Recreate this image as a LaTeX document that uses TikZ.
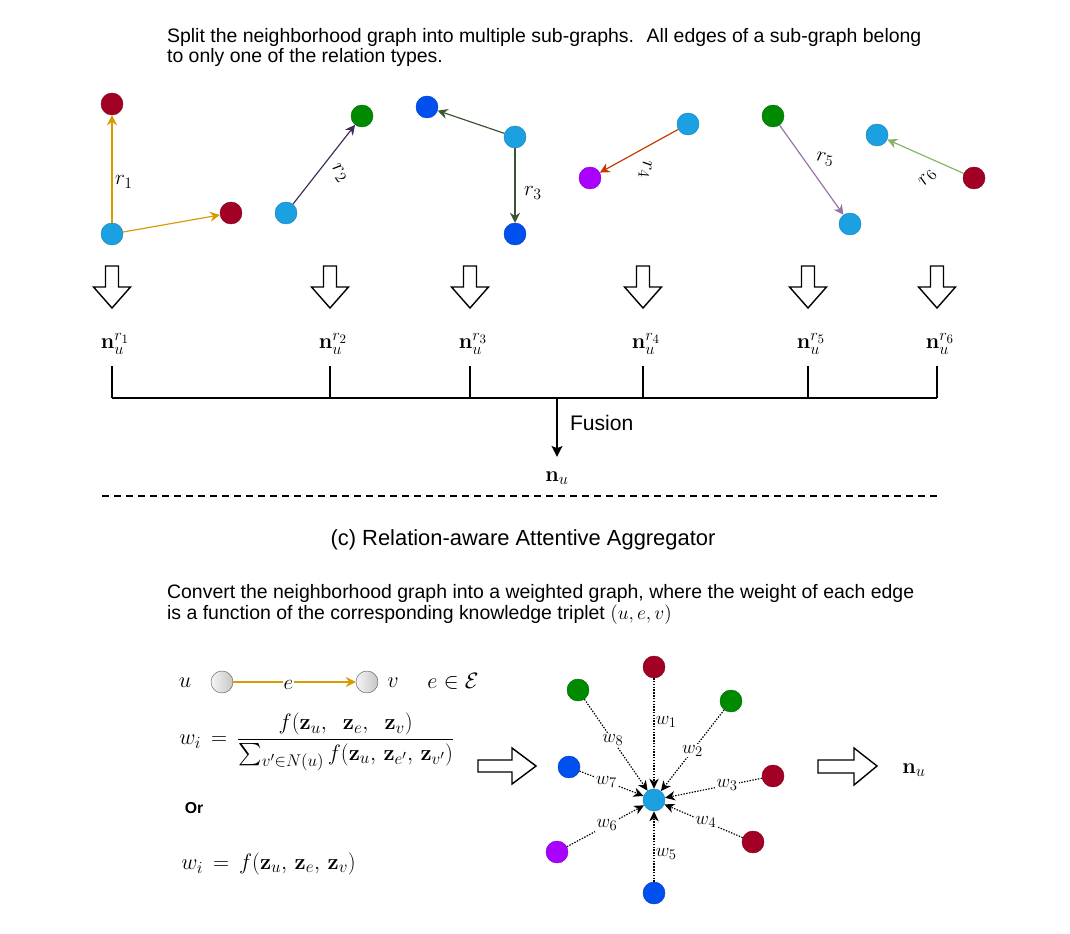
\RequirePackage{fix-cm}
\documentclass[tikz,border=0pt]{standalone}
\usepackage{amsmath,amssymb}
\usepackage[no-math]{fontspec}
\setmainfont{Liberation Sans}
\usetikzlibrary{arrows.meta}
\definecolor{nred}{HTML}{A20025}
\definecolor{ngreen}{HTML}{008A00}
\definecolor{nblue}{HTML}{1BA1E2}
\definecolor{ncobalt}{HTML}{0050EF}
\definecolor{nviolet}{HTML}{AA00FF}
\definecolor{eorange}{HTML}{D79B00}
\definecolor{eplum}{HTML}{432D57}
\definecolor{eolive}{HTML}{3A5431}
\definecolor{erust}{HTML}{C73500}
\definecolor{elilac}{HTML}{9673A6}
\definecolor{elime}{HTML}{82B366}
\DeclareMathSizes{19}{19}{14.5}{11}
\DeclareMathSizes{18.5}{18.5}{14}{11}
\DeclareMathSizes{18}{18}{13.5}{10.5}
\DeclareMathSizes{16}{16}{12.5}{9.5}
\newcommand{\nvec}{\mathbf{n}}
\newcommand{\zvec}{\mathbf{z}}

\begin{document}
\begin{tikzpicture}[
    x=0.03cm, y=-0.03cm,
    dot/.style={circle, minimum size=0.66cm, inner sep=0pt, fill=#1,
                draw=#1!80!black, line width=0.4pt},
    gdot/.style={circle, minimum size=0.66cm, inner sep=0pt,
                 left color=gray!8, right color=gray!45, draw=gray!75!black},
    rel/.style={draw=#1, line width=1pt,
                -{Stealth[length=3mm, width=3mm, inset=1mm]}},
    rlbl/.style={font=\fontsize{18}{21}\selectfont, inner sep=1pt},
    caption/.style={font=\fontsize{16.6}{17.9}\selectfont, align=left},
    bigm/.style={font=\fontsize{18.5}{22}\selectfont, inner sep=1pt},
    fm/.style={font=\fontsize{19}{23}\selectfont, inner sep=1pt},
    blk/.style={draw, line width=1.2pt, fill=white, line join=miter},
    wedge/.style={line width=1pt, dash pattern=on 1.2pt off 1.2pt,
                  -{Stealth[length=3mm, width=2.8mm, inset=0.9mm]}},
    wlbl/.style={font=\fontsize{16}{19}\selectfont, fill=white, inner sep=1pt},
]
\useasboundingbox (0,0) rectangle (1070,934);

% caption of the split part
\node[caption, anchor=base west] (cap1) at (163,63)
  {Split the neighborhood graph into multiple sub-graphs.~ All edges of a sub-graph belong\\
   to only one of the relation types.};

% the six sub-graphs
\node[dot=nblue] (a0) at (112,234) {};
\node[dot=nred] (a1) at (112,104) {};
\node[dot=nred] (a2) at (231,213) {};
\draw[rel=eorange] (a0) -- node[rlbl, pos=0.38, shift={(12,0)}] (l1) {$r_1$} (a1);
\draw[rel=eorange] (a0) -- (a2);

\node[dot=nblue] (b0) at (286,213) {};
\node[dot=ngreen] (b1) at (362,116) {};
\draw[rel=eplum] (b0) -- node[rlbl, pos=0.39, shift={(22,0)}, rotate=-55] (l2) {$r_2$} (b1);

\node[dot=nblue] (c0) at (515,137) {};
\node[dot=ncobalt] (c1) at (427,107) {};
\node[dot=ncobalt] (c2) at (515,234) {};
\draw[rel=eolive] (c0) -- (c1);
\draw[rel=eolive] (c0) -- node[rlbl, pos=0.6, shift={(18,0)}] (l3) {$r_3$} (c2);

\node[dot=nblue] (d0) at (688,124) {};
\node[dot=nviolet] (d1) at (590,178) {};
\draw[rel=erust] (d0) -- node[rlbl, pos=0.42, shift={(0,22)}, rotate=-95] (l4) {$r_4$} (d1);

\node[dot=ngreen] (e0) at (773,116) {};
\node[dot=nblue] (e1) at (850,224) {};
\draw[rel=elilac] (e0) -- node[rlbl, pos=0.38, shift={(21,0)}, rotate=-10] (l5) {$r_5$} (e1);

\node[dot=nred] (f0) at (974,178) {};
\node[dot=nblue] (f1) at (877,135) {};
\draw[rel=elime] (f0) -- node[rlbl, pos=0.47, shift={(0,20)}, rotate=50] (l6) {$r_6$} (f1);

% block arrows, labels and fusion
\foreach \x [count=\i] in {112,330,470,643,808,937} {
  \draw[blk] (\x-6.5,266) -- (\x-6.5,287) -- (\x-18.5,287) -- (\x,308)
    -- (\x+18.5,287) -- (\x+6.5,287) -- (\x+6.5,266) -- cycle;
  \node[bigm] (n\i) at (\x+3,344) {$\nvec_u^{r_{\i}}$};
  \coordinate (t\i) at (\x,366);
  \coordinate (h\i) at (\x,398);
  \draw[line width=1.2pt] (t\i) -- (h\i);
}
\draw[line width=1.2pt] (h1) -- (h6);
\coordinate (hf) at (557,398);
\node[bigm] (nu) at (557,478) {$\nvec_u$};
\draw[line width=1.8pt, -{Stealth[length=3.2mm, width=3.2mm, inset=0.6mm]}, shorten >=0.4cm]
  (hf) -- node[pos=0.35, anchor=west, font=\fontsize{18}{21}\selectfont, inner sep=0pt,
               shift={(12,0)}] (fus) {Fusion} (nu.north);

% separator
\coordinate (sl) at (102,496);
\coordinate (sr) at (940,496);
\draw[line width=1.1pt, dash pattern=on 0.21cm off 0.15cm] (sl) -- (sr);
\node[font=\fontsize{18.7}{22}\selectfont] (title) at (523,540)
  {(c) Relation-aware Attentive Aggregator};

% caption of the weighted part
\node[caption, anchor=base west] (cap2) at (163,619)
  {Convert the neighborhood graph into a weighted graph, where the weight of each edge\\
   is a function of the corresponding knowledge triplet $(u, e, v)$};

% triplet and weights
\node[fm] (u) at (185,683) {$u$};
\node[gdot] (gu) at (222,682) {};
\node[gdot] (gv) at (367,682) {};
\draw[rel=eorange] (gu) -- node[rlbl, fill=white, inner sep=0.5pt, pos=0.45, shift={(0,3)}] (le) {$e$} (gv);
\node[fm] (v) at (393,683) {$v$};
\node[fm] (inE) at (453,681) {$e \in \mathcal{E}$};

\node[fm, anchor=west] (wfrac) at (178,742)
  {$\displaystyle w_i \,=\, \frac{f(\zvec_u,\;\; \zvec_e,\;\; \zvec_v)}{\sum_{v' \in N(u)} f(\zvec_u,\, \zvec_{e'},\, \zvec_{v'})}$};
\node[font=\bfseries\fontsize{13.5}{16}\selectfont] (or) at (194,808) {Or};
\node[fm, anchor=west] (wsimple) at (180,864)
  {$w_i \,=\, f(\zvec_u,\, \zvec_e,\, \zvec_v)$};

\draw[blk] (478,760) -- (512,760) -- (512,748) -- (536,766) -- (512,784)
  -- (512,772) -- (478,772) -- cycle;

% attentive star graph
\node[dot=nblue] (c) at (654,800) {};
\node[dot=nred] (o1) at (654,667) {};
\node[dot=ngreen] (o2) at (731,701) {};
\node[dot=nred] (o3) at (773,776) {};
\node[dot=nred] (o4) at (753,842) {};
\node[dot=ncobalt] (o5) at (654,893) {};
\node[dot=nviolet] (o6) at (557,852) {};
\node[dot=ncobalt] (o7) at (569,767) {};
\node[dot=ngreen] (o8) at (578,690) {};

\draw[wedge] (o1) -- node[wlbl, fill=none, pos=0.4, right] (w1) {$w_1$} (c);
\draw[wedge] (o2) -- node[wlbl, pos=0.5] (w2) {$w_2$} (c);
\draw[wedge] (o3) -- node[wlbl, pos=0.36] (w3) {$w_3$} (c);
\draw[wedge] (o4) -- node[wlbl, pos=0.47] (w4) {$w_4$} (c);
\draw[wedge] (o5) -- node[wlbl, fill=none, pos=0.4, right] (w5) {$w_5$} (c);
\draw[wedge] (o6) -- node[wlbl, pos=0.52] (w6) {$w_6$} (c);
\draw[wedge] (o7) -- node[wlbl, pos=0.42] (w7) {$w_7$} (c);
\draw[wedge] (o8) -- node[wlbl, pos=0.45] (w8) {$w_8$} (c);

\draw[blk] (818,760) -- (854,760) -- (854,748) -- (877,766) -- (854,785)
  -- (854,773) -- (818,773) -- cycle;
\node[bigm] (nout) at (914,770) {$\nvec_u$};

\end{tikzpicture}
\end{document}
